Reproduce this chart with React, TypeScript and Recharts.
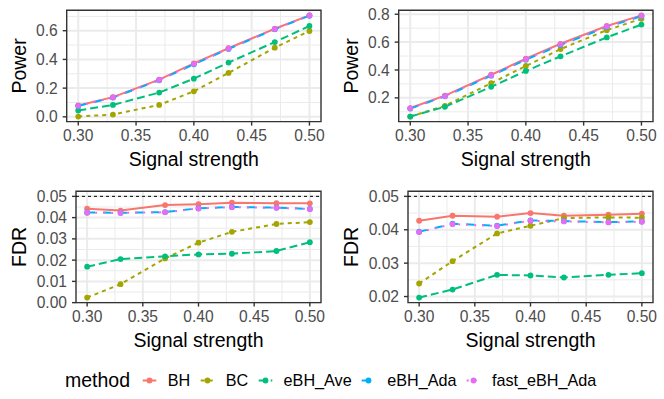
import React from 'react';
import { LineChart, Line, XAxis, YAxis, CartesianGrid, ReferenceLine, ReferenceArea } from 'recharts';

// ---------- data ----------
const signal = [0.3, 0.33, 0.37, 0.4, 0.43, 0.47, 0.5];
const methods = ['BH', 'BC', 'eBH_Ave', 'eBH_Ada', 'fast_eBH_Ada'];
const colors = ['#F8766D', '#A3A500', '#00BF7D', '#00B0F6', '#E76BF3'];
const dashes = ['0', '4 4', '8 4', '8 8', '2 6'];

// top-left: power
const powerA_BH = [0.079, 0.137, 0.259, 0.373, 0.478, 0.614, 0.707];
const powerA_BC = [0.002, 0.016, 0.083, 0.178, 0.306, 0.482, 0.598];
const powerA_Ave = [0.044, 0.083, 0.169, 0.266, 0.378, 0.521, 0.633];
const powerA_Ada = [0.076, 0.134, 0.255, 0.366, 0.473, 0.61, 0.705];
const powerA_fast = [0.077, 0.135, 0.257, 0.369, 0.476, 0.612, 0.706];

// top-right: power
const powerB_BH = [0.127, 0.216, 0.366, 0.481, 0.588, 0.716, 0.792];
const powerB_BC = [0.066, 0.143, 0.305, 0.429, 0.55, 0.686, 0.767];
const powerB_Ave = [0.066, 0.136, 0.279, 0.393, 0.498, 0.634, 0.726];
const powerB_Ada = [0.123, 0.211, 0.359, 0.474, 0.58, 0.708, 0.786];
const powerB_fast = [0.125, 0.213, 0.362, 0.477, 0.584, 0.712, 0.789];

// bottom-left: FDR
const fdrA_BH = [0.0442, 0.0433, 0.0459, 0.0463, 0.047, 0.0468, 0.0467];
const fdrA_BC = [0.0024, 0.0087, 0.0208, 0.0282, 0.0333, 0.037, 0.0379];
const fdrA_Ave = [0.0169, 0.0205, 0.0218, 0.0227, 0.023, 0.0243, 0.0284];
const fdrA_Ada = [0.0424, 0.0423, 0.0426, 0.0444, 0.045, 0.0447, 0.0441];
const fdrA_fast = [0.0423, 0.0422, 0.0425, 0.0443, 0.0449, 0.0446, 0.044];

// bottom-right: FDR
const fdrB_BH = [0.0427, 0.0442, 0.0439, 0.045, 0.0442, 0.0445, 0.0448];
const fdrB_BC = [0.0239, 0.0306, 0.0389, 0.0412, 0.0435, 0.0437, 0.0436];
const fdrB_Ave = [0.0197, 0.0221, 0.0265, 0.0263, 0.0257, 0.0265, 0.027];
const fdrB_Ada = [0.0394, 0.0418, 0.0412, 0.0428, 0.0426, 0.0423, 0.0425];
const fdrB_fast = [0.0393, 0.0417, 0.0411, 0.0427, 0.0425, 0.0422, 0.0424];

const xTicks = [0.3, 0.35, 0.4, 0.45, 0.5];
const powerATicks = [0, 0.2, 0.4, 0.6];
const powerBTicks = [0.2, 0.4, 0.6, 0.8];
const fdrATicks = [0, 0.01, 0.02, 0.03, 0.04, 0.05];
const fdrBTicks = [0.02, 0.03, 0.04, 0.05];
const fdrLevel = 0.05;

// ---------- helpers ----------
const FONT = '"Liberation Sans", Arial, Helvetica, sans-serif';

function expandRange(vals: number[]): [number, number] {
  const mn = Math.min(...vals);
  const mx = Math.max(...vals);
  const pad = (mx - mn) * 0.05;
  return [mn - pad, mx + pad];
}

function minorOf(ticks: number[], domain: [number, number]) {
  const step = ticks[1] - ticks[0];
  const out: number[] = [];
  for (let i = -1; i < ticks.length; i++) {
    const v = ticks[0] + step * (i + 0.5);
    if (v > domain[0] && v < domain[1]) out.push(v);
  }
  return out;
}

const xDomain = expandRange(signal);
const xMinor = minorOf(xTicks, xDomain);

type PanelProps = {
  left: number;
  top: number;
  yWidth: number;
  yLabel: string;
  yTicks: number[];
  digits: number;
  values: number[][];
  hline?: number;
};

function Panel({ left, top, yWidth, yLabel, yTicks, digits, values, hline }: PanelProps) {
  const data = signal.map((s, i) => {
    const row: any = { s };
    methods.forEach((m, k) => {
      row[m] = values[k][i];
    });
    return row;
  });
  const all = values.flat().concat(hline !== undefined ? [hline] : []);
  const yDomain = expandRange(all);
  const yMinor = minorOf(yTicks, yDomain);

  const xLabel = (props: any) => {
    const vb = props.viewBox;
    return (
      <text x={vb.x + vb.width / 2} y={vb.y + 44.5} textAnchor="middle" fontSize={19.5} fill="#000" fontFamily={FONT}>
        Signal strength
      </text>
    );
  };
  const yLab = (props: any) => {
    const vb = props.viewBox;
    const cy = vb.y + vb.height / 2;
    return (
      <text transform={`translate(${vb.x + 25.5}, ${cy}) rotate(-90)`} textAnchor="middle" fontSize={19.5} fill="#000" fontFamily={FONT}>
        {yLabel}
      </text>
    );
  };

  return (
    <div style={{ position: 'absolute', left, top }}>
      <LineChart width={332} height={172} data={data} margin={{ top: 10.3, right: 11, bottom: 0, left: 0 }} style={{ fontFamily: FONT }}>
        <CartesianGrid verticalValues={xMinor} horizontalValues={yMinor} stroke="#EBEBEB" strokeWidth={1} />
        <CartesianGrid verticalValues={xTicks} horizontalValues={yTicks} stroke="#EBEBEB" strokeWidth={2} />
        <XAxis
          dataKey="s"
          type="number"
          domain={xDomain}
          ticks={xTicks}
          interval={0}
          allowDataOverflow
          tickFormatter={(v: number) => v.toFixed(2)}
          axisLine={false}
          tickLine={{ stroke: '#333333', strokeWidth: 1.4 }}
          tickSize={4}
          tickMargin={4.6}
          height={50.4}
          tick={{ fill: '#4D4D4D', fontSize: 15.6, fontFamily: FONT }}
          label={xLabel}
        />
        <YAxis
          type="number"
          domain={yDomain}
          ticks={yTicks}
          interval={0}
          allowDataOverflow
          tickFormatter={(v: number) => v.toFixed(digits)}
          axisLine={false}
          tickLine={{ stroke: '#333333', strokeWidth: 1.4 }}
          tickSize={4}
          tickMargin={5}
          width={yWidth}
          tick={{ fill: '#4D4D4D', fontSize: 15.6, fontFamily: FONT }}
          label={yLab}
        />
        {hline !== undefined && (
          <ReferenceLine y={hline} stroke="#000" strokeWidth={1} strokeDasharray="3 3" />
        )}
        {methods.map((m, k) => (
          <Line
            key={m}
            dataKey={m}
            type="linear"
            stroke={colors[k]}
            strokeWidth={2}
            strokeDasharray={dashes[k]}
            dot={{ r: 2.9, fill: colors[k], stroke: colors[k], strokeWidth: 0, strokeDasharray: '0' }}
            activeDot={false}
            isAnimationActive={false}
          />
        ))}
        <ReferenceArea
          x1={xDomain[0]}
          x2={xDomain[1]}
          y1={yDomain[0]}
          y2={yDomain[1]}
          fill="none"
          fillOpacity={0}
          stroke="#333333"
          strokeWidth={1.4}
          ifOverflow="visible"
        />
      </LineChart>
    </div>
  );
}

function Legend() {
  return (
    <div
      style={{
        position: 'absolute',
        left: 65,
        top: 368.7,
        height: 24,
        display: 'flex',
        alignItems: 'center',
        fontFamily: FONT,
        whiteSpace: 'nowrap',
      }}
    >
      <span style={{ fontSize: 19.5, color: '#000' }}>method</span>
      {methods.map((m, k) => (
        <React.Fragment key={m}>
          <svg width={17} height={17} style={{ marginLeft: k === 0 ? 10.8 : 8.7, flex: 'none' }}>
            <line x1={1.7} x2={15.3} y1={8.5} y2={8.5} stroke={colors[k]} strokeWidth={2} strokeDasharray={dashes[k]} />
            <circle cx={8.5} cy={8.5} r={2.9} fill={colors[k]} />
          </svg>
          <span style={{ fontSize: 16.2, color: '#000', marginLeft: 9.8 }}>{m}</span>
        </React.Fragment>
      ))}
    </div>
  );
}

export default function App() {
  return (
    <div style={{ position: 'absolute', left: 0, top: 0, width: 664, height: 399, background: '#fff', overflow: 'hidden' }}>
      <Panel left={0} top={0} yWidth={66.7} yLabel="Power" yTicks={powerATicks} digits={1}
        values={[powerA_BH, powerA_BC, powerA_Ave, powerA_Ada, powerA_fast]} />
      <Panel left={332} top={0} yWidth={66.7} yLabel="Power" yTicks={powerBTicks} digits={1}
        values={[powerB_BH, powerB_BC, powerB_Ave, powerB_Ada, powerB_fast]} />
      <Panel left={0} top={180.7} yWidth={76} yLabel="FDR" yTicks={fdrATicks} digits={2}
        values={[fdrA_BH, fdrA_BC, fdrA_Ave, fdrA_Ada, fdrA_fast]} hline={fdrLevel} />
      <Panel left={332} top={180.7} yWidth={76} yLabel="FDR" yTicks={fdrBTicks} digits={2}
        values={[fdrB_BH, fdrB_BC, fdrB_Ave, fdrB_Ada, fdrB_fast]} hline={fdrLevel} />
      <Legend />
    </div>
  );
}
